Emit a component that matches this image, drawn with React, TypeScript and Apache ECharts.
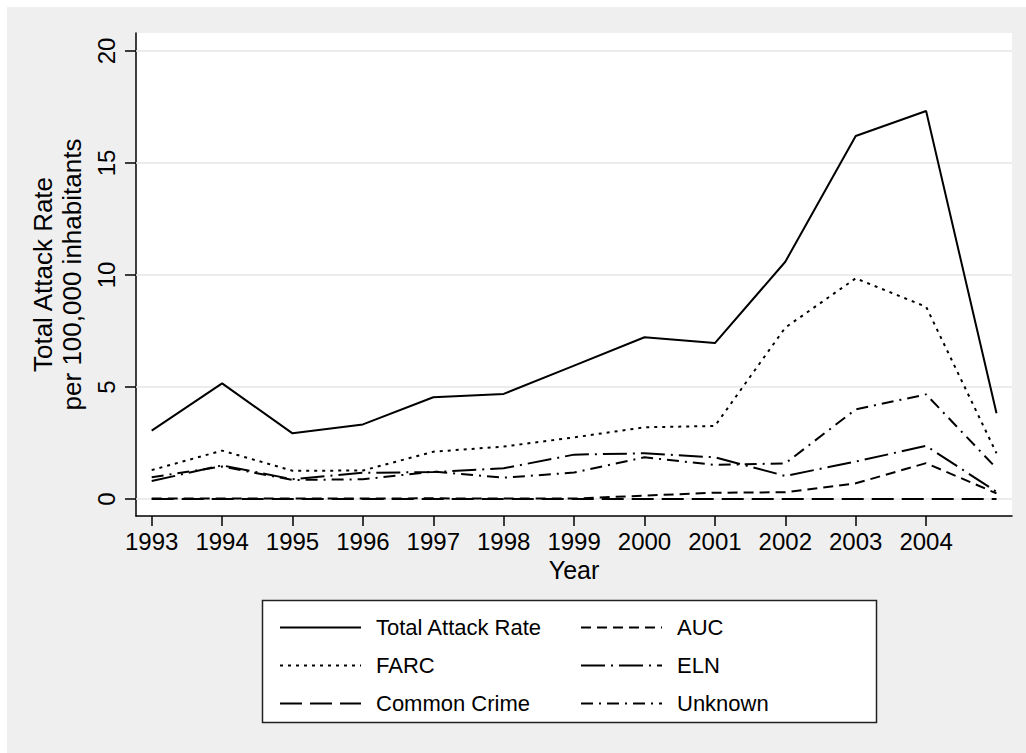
import React, { useEffect, useRef } from "react";
import * as echarts from "echarts";

const years = [1993, 1994, 1995, 1996, 1997, 1998, 1999, 2000, 2001, 2002, 2003, 2004, 2005];
const xTickYears = [1993, 1994, 1995, 1996, 1997, 1998, 1999, 2000, 2001, 2002, 2003, 2004];
const yTicks = [0, 5, 10, 15, 20];

const totalRate = [3.05, 5.16, 2.93, 3.33, 4.54, 4.69, 5.95, 7.22, 6.96, 10.59, 16.2, 17.32, 3.83];
const farc = [1.29, 2.16, 1.26, 1.27, 2.11, 2.34, 2.75, 3.2, 3.26, 7.65, 9.85, 8.58, 2.04];
const auc = [0.02, 0.02, 0.02, 0.02, 0.03, 0.02, 0.02, 0.15, 0.28, 0.3, 0.7, 1.6, 0.25];
const eln = [0.8, 1.5, 0.88, 1.17, 1.2, 1.37, 1.98, 2.04, 1.86, 1.03, 1.67, 2.37, 0.32];
const commonCrime = [0, 0, 0, 0, 0, 0, 0, 0, 0, 0, 0, 0, 0];
const unknown = [0.97, 1.45, 0.85, 0.88, 1.22, 0.95, 1.18, 1.86, 1.52, 1.59, 4.0, 4.67, 1.37];

const FONT = "'Liberation Sans', Arial, Helvetica, sans-serif";

export default function App() {
  const ref = useRef<HTMLDivElement>(null);

  useEffect(() => {
    if (!ref.current) return;
    const chart = echarts.init(ref.current, undefined, { renderer: "svg" });

    const mk = (name: string, vals: number[], dash: any, withGrid = false) => {
      const s: any = {
        name,
        type: "line",
        data: years.map((y, i) => [y, vals[i]]),
        symbol: "none",
        showSymbol: false,
        lineStyle: { color: "#000", width: 2, type: dash },
        itemStyle: { color: "#000" },
        z: 5,
      };
      if (withGrid) {
        s.markLine = {
          silent: true,
          symbol: ["none", "none"],
          label: { show: false },
          z: 1,
          lineStyle: { color: "#e6e6e6", width: 1.5, type: "solid" },
          data: yTicks.map((v) => ({ yAxis: v })),
        };
      }
      return s;
    };

    const legendCommon = {
      orient: "vertical",
      top: 608,
      padding: 0,
      itemWidth: 81,
      itemHeight: 14,
      itemGap: 13,
      z: 10,
      selectedMode: false,
      itemStyle: { opacity: 0, borderWidth: 0 },
      textStyle: {
        fontFamily: FONT,
        fontSize: 22,
        color: "#000",
        lineHeight: 25,
        padding: [0, 0, 0, 10],
      },
    };

    chart.setOption({
      animation: false,
      backgroundColor: "transparent",
      textStyle: { fontFamily: FONT },
      grid: {
        left: 129,
        top: 26,
        right: 14,
        bottom: 237,
        show: true,
        backgroundColor: "#ffffff",
        borderWidth: 0,
        containLabel: false,
      },
      graphic: [
        {
          type: "rect",
          z: 1,
          shape: { x: 255.5, y: 593.5, width: 614, height: 122 },
          style: { fill: "#ffffff", stroke: "#222", lineWidth: 1.5 },
          silent: true,
        },
      ],
      legend: [
        {
          ...legendCommon,
          left: 272,
          data: ["Total Attack Rate", "FARC", "Common Crime"],
        },
        {
          ...legendCommon,
          left: 573,
          data: ["AUC", "ELN", "Unknown"],
        },
      ],
      xAxis: {
        type: "value",
        min: 1992.777,
        max: 2005.22,
        name: "Year",
        nameLocation: "middle",
        nameGap: 40,
        nameTextStyle: { fontFamily: FONT, fontSize: 25, color: "#000" },
        axisLine: { show: true, onZero: false, lineStyle: { color: "#000", width: 1.5 } },
        axisTick: { show: true, length: 10, customValues: xTickYears, lineStyle: { color: "#000", width: 1.5 } },
        axisLabel: {
          show: true,
          customValues: xTickYears,
          fontFamily: FONT,
          fontSize: 24,
          color: "#000",
          margin: 13,
          formatter: (v: number) => String(v),
        },
        splitLine: { show: false },
      },
      yAxis: {
        type: "value",
        min: -0.759,
        max: 20.8,
        name: "Total Attack Rate\nper 100,000 inhabitants",
        nameLocation: "middle",
        nameRotate: 90,
        nameGap: 42,
        nameTextStyle: { fontFamily: FONT, fontSize: 26, color: "#000", lineHeight: 29 },
        axisLine: { show: true, onZero: false, lineStyle: { color: "#000", width: 1.5 } },
        axisTick: { show: true, length: 11, customValues: yTicks, lineStyle: { color: "#000", width: 1.5 } },
        axisLabel: {
          show: true,
          customValues: yTicks,
          rotate: 90,
          fontFamily: FONT,
          fontSize: 24,
          color: "#000",
          margin: 18,
          formatter: (v: number) => String(v),
        },
        splitLine: { show: false },
      },
      series: [
        mk("Total Attack Rate", totalRate, "solid", true),
        mk("AUC", auc, [10, 6]),
        mk("FARC", farc, [3, 5]),
        mk("ELN", eln, [24, 6, 2, 6]),
        mk("Common Crime", commonCrime, [22, 8]),
        mk("Unknown", unknown, [12, 6, 2, 6]),
      ],
    });

    return () => {
      chart.dispose();
    };
  }, []);

  return (
    <div style={{ position: "fixed", left: 0, top: 0, width: 1026, height: 753, background: "#ffffff" }}>
      <div
        ref={ref}
        style={{ position: "absolute", left: 7, top: 7, width: 1019, height: 746, background: "#efefef" }}
      />
    </div>
  );
}
